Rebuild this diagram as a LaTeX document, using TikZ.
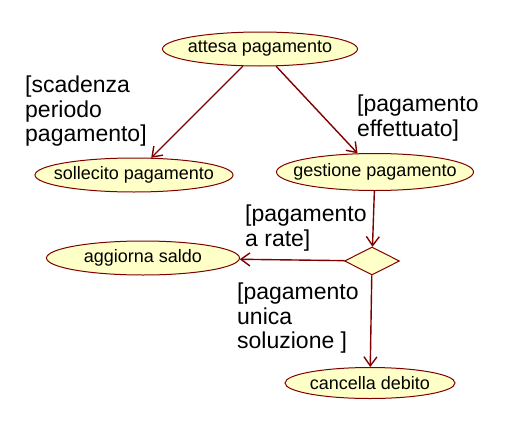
\documentclass[tikz,border=0pt]{standalone}
\usepackage{fontspec}
\setmainfont{Liberation Sans}
\usetikzlibrary{shapes.geometric,arrows.meta}
\definecolor{argored}{RGB}{128,0,0}
\definecolor{argofill}{RGB}{255,255,200}

\begin{document}
\begin{tikzpicture}[x=1pt,y=-1pt,
    act/.style={ellipse,draw=argored,fill=argofill,line width=1pt,inner sep=0pt,minimum height=34pt,font=\fontsize{18}{20}\selectfont},
    guard/.style={anchor=north west,inner sep=0pt,align=left,font=\fontsize{23}{24.5}\selectfont},
    flow/.style={draw=argored,line width=1.4pt,-{Straight Barb[length=9pt,width=13pt]}}]
    \useasboundingbox (0,0) rectangle (519,431);
    \node[act,minimum width=195pt] (attesa) at (260,49) {\makebox[0pt]{attesa pagamento}};
    \node[act,minimum width=198pt] (sollecito) at (134,175) {\makebox[0pt]{sollecito pagamento}};
    \node[act,minimum width=197pt,minimum height=37pt] (gestione) at (375,172) {\makebox[0pt]{gestione pagamento}};
    \node[act,minimum width=193pt] (aggiorna) at (143,258) {\makebox[0pt]{aggiorna saldo}};
    \node[diamond,draw=argored,fill=argofill,line width=1pt,inner sep=0pt,minimum width=55pt,minimum height=28pt] (scelta) at (372,261) {};
    \node[act,minimum width=170pt,minimum height=31pt] (cancella) at (370,383) {\makebox[0pt]{cancella debito}};
    \draw[flow] (attesa) -- (sollecito);
    \draw[flow] (attesa) -- (gestione);
    \draw[flow] (gestione) -- (scelta);
    \draw[flow] (scelta) -- (aggiorna);
    \draw[flow] (scelta) -- (cancella);
    \node[guard] (gscadenza) at (25,76) {[scadenza\\periodo\\pagamento]};
    \node[guard] (geffettuato) at (357,95) {[pagamento\\effettuato]};
    \node[guard] (grate) at (245,205) {[pagamento\\a rate]};
    \node[guard] (gunica) at (237,283) {[pagamento\\unica\\soluzione ]};
\end{tikzpicture}
\end{document}
